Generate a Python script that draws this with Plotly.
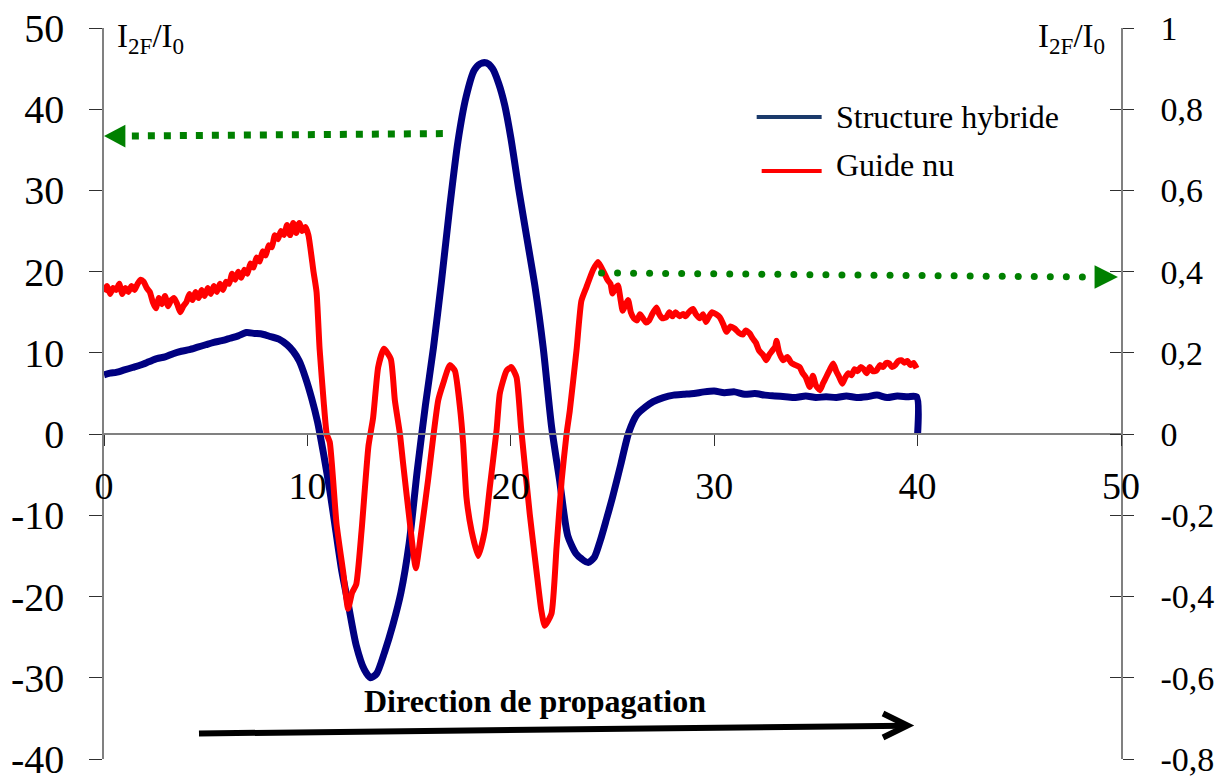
import numpy as np
import plotly.graph_objects as go

# ---- data -------------------------------------------------------------
# Structure hybride, left axis (I2F/I0)
hyb_x = [0, 0.3, 0.6, 1.0, 1.4, 1.8, 2.2, 2.6, 3.0, 3.4, 3.8, 4.2, 4.6, 5.0, 5.4,
         5.8, 6.2, 6.6, 7.0, 7.4, 7.8, 8.2, 8.6, 9.0, 9.3, 9.6, 9.9, 10.2, 10.5,
         10.8, 11.1, 11.4, 11.7, 12.0, 12.4, 12.8, 13.1, 13.4, 13.8, 14.2, 14.6,
         15.0, 15.4, 15.8, 16.2, 16.6, 17.0, 17.4, 17.8, 18.2, 18.5, 18.8, 19.1,
         19.4, 19.7, 20.0, 20.4, 20.8, 21.2, 21.6, 22.0, 22.4, 22.8, 23.2, 23.5,
         23.8, 24.1, 24.4, 24.7, 25.0, 25.4, 25.8, 26.2, 26.6, 27.0, 27.5, 28.0,
         28.5, 29.0, 29.5, 30.0, 30.5, 31.0, 31.5, 32.0, 32.5, 33.0, 33.5, 34.0,
         34.5, 35.0, 35.5, 36.0, 36.5, 37.0, 37.5, 38.0, 38.5, 39.0, 39.5, 39.95,
         40.0]
hyb_y = [7.3, 7.5, 7.6, 7.9, 8.2, 8.5, 8.9, 9.3, 9.5, 9.9, 10.2, 10.4, 10.7, 11.0,
         11.3, 11.5, 11.8, 12.1, 12.5, 12.4, 12.3, 12.0, 11.7, 11.0, 10.2, 9.0,
         7.0, 4.5, 1.5, -2.5, -6.9, -12.0, -17.0, -20.8, -26.0, -29.0, -30.0,
         -29.5, -26.8, -23.5, -19.5, -13.5, -4.5, 3.5, 10.7, 19.0, 28.0, 36.0,
         41.5, 44.8, 45.6, 45.7, 45.0, 43.2, 40.5, 36.5, 30.0, 24.0, 18.0, 10.5,
         1.0, -5.7, -12.5, -14.7, -15.4, -15.8, -15.2, -13.1, -10.5, -7.8, -3.8,
         0.2, 2.4, 3.3, 4.0, 4.5, 4.8, 4.9, 5.0, 5.2, 5.3, 5.1, 5.2, 4.9, 5.0,
         4.8, 4.7, 4.6, 4.5, 4.7, 4.5, 4.6, 4.5, 4.7, 4.5, 4.6, 4.8, 4.5, 4.7,
         4.6, 4.6, 0.0]

# Guide nu, right axis (I2F/I0)
nu_x = [0.0, 0.15, 0.3, 0.45, 0.6, 0.75, 0.9, 1.05, 1.2, 1.35, 1.5, 1.65, 1.8, 1.95,
        2.1, 2.25, 2.4, 2.55, 2.7, 2.85, 3.0, 3.15, 3.3, 3.45, 3.6, 3.75, 3.9,
        4.05, 4.2, 4.35, 4.5, 4.65, 4.8, 4.95, 5.1, 5.25, 5.4, 5.55, 5.7, 5.85,
        6.0, 6.15, 6.3, 6.45, 6.6, 6.75, 6.9, 7.05, 7.2, 7.35, 7.5, 7.65, 7.8,
        7.95, 8.1, 8.25, 8.4, 8.55, 8.7, 8.85, 9.0, 9.15, 9.3, 9.45, 9.6, 9.75,
        9.9, 10.05, 10.3, 10.45, 10.6, 10.8, 10.95, 11.1, 11.43, 11.76, 12.0,
        12.2, 12.4, 12.66, 13.0, 13.23, 13.48, 13.76, 14.1, 14.3, 14.55, 14.7,
        15.04, 15.33, 15.6, 15.94, 16.18, 16.43, 16.67, 17.0, 17.25, 17.5, 17.66,
        17.82, 18.07, 18.4, 18.72, 18.97, 19.3, 19.46, 19.79, 20.03, 20.28, 20.5,
        20.6, 20.93, 21.26, 21.5, 21.67, 22.0, 22.25, 22.5, 22.74, 22.9, 23.23,
        23.47, 23.72, 24.04, 24.29, 24.6, 24.75, 24.9, 25.0, 25.15, 25.27, 25.4,
        25.5, 25.65, 25.77, 25.9, 26.05, 26.2, 26.35, 26.5, 26.65, 26.8, 26.95,
        27.16, 27.3, 27.45, 27.65, 27.8, 27.95, 28.1, 28.3, 28.47, 28.6, 28.75,
        28.96, 29.1, 29.3, 29.45, 29.6, 29.75, 29.9, 30.1, 30.27, 30.45, 30.6,
        30.8, 31.0, 31.2, 31.4, 31.55, 31.74, 31.9, 32.05, 32.2, 32.4, 32.56,
        32.7, 32.85, 33.0, 33.06, 33.2, 33.4, 33.6, 33.8, 34.0, 34.2, 34.35, 34.5,
        34.7, 34.85, 35.0, 35.2, 35.35, 35.5, 35.7, 35.85, 36.0, 36.15, 36.3,
        36.45, 36.6, 36.75, 36.9, 37.05, 37.2, 37.35, 37.5, 37.65, 37.8, 37.97,
        38.15, 38.3, 38.45, 38.6, 38.75, 38.9, 39.05, 39.2, 39.35, 39.5, 39.65,
        39.8, 39.95]
nu_y = [0.35, 0.365, 0.345, 0.36, 0.355, 0.37, 0.345, 0.36, 0.35, 0.365, 0.355,
        0.37, 0.38, 0.375, 0.36, 0.35, 0.325, 0.31, 0.335, 0.32, 0.34, 0.315,
        0.33, 0.335, 0.32, 0.30, 0.315, 0.325, 0.345, 0.33, 0.35, 0.335, 0.355,
        0.34, 0.36, 0.345, 0.365, 0.35, 0.37, 0.355, 0.375, 0.37, 0.395, 0.38,
        0.40, 0.385, 0.405, 0.395, 0.42, 0.41, 0.435, 0.425, 0.45, 0.44, 0.465,
        0.46, 0.49, 0.48, 0.50, 0.49, 0.515, 0.49, 0.52, 0.495, 0.52, 0.50, 0.51,
        0.49, 0.40, 0.35, 0.21, 0.08, 0.0, -0.02, -0.22, -0.34, -0.43, -0.39,
        -0.37, -0.24, -0.03, 0.04, 0.165, 0.21, 0.185, 0.083, 0.0, -0.07, -0.22,
        -0.33, -0.24, -0.11, -0.01, 0.083, 0.124, 0.17, 0.156, 0.066, -0.024,
        -0.156, -0.238, -0.30, -0.238, -0.13, 0.009, 0.10, 0.156, 0.165, 0.14,
        0.018, -0.032, -0.196, -0.336, -0.434, -0.472, -0.442, -0.278, -0.114,
        0.0, 0.058, 0.206, 0.328, 0.362, 0.404, 0.424, 0.396, 0.38, 0.37, 0.346,
        0.36, 0.366, 0.33, 0.304, 0.32, 0.33, 0.30, 0.285, 0.28, 0.295, 0.285,
        0.275, 0.28, 0.295, 0.312, 0.295, 0.285, 0.288, 0.30, 0.29, 0.30, 0.29,
        0.296, 0.29, 0.30, 0.308, 0.295, 0.285, 0.295, 0.276, 0.29, 0.30, 0.295,
        0.288, 0.27, 0.252, 0.265, 0.26, 0.25, 0.245, 0.255, 0.248, 0.235, 0.225,
        0.206, 0.195, 0.182, 0.195, 0.205, 0.215, 0.23, 0.20, 0.182, 0.19, 0.175,
        0.17, 0.165, 0.15, 0.14, 0.116, 0.144, 0.12, 0.108, 0.125, 0.14, 0.16,
        0.174, 0.155, 0.14, 0.124, 0.14, 0.15, 0.145, 0.16, 0.155, 0.165, 0.16,
        0.15, 0.165, 0.155, 0.156, 0.17, 0.165, 0.175, 0.174, 0.165, 0.17, 0.18,
        0.182, 0.176, 0.18, 0.17, 0.175, 0.162]

# axis ticks
x_ticks = [0, 10, 20, 30, 40, 50]
left_ticks = [-40, -30, -20, -10, 0, 10, 20, 30, 40, 50]
left_labels = ["-40", "-30", "-20", "-10", "0", "10", "20", "30", "40", "50"]
right_ticks = [-0.8, -0.6, -0.4, -0.2, 0, 0.2, 0.4, 0.6, 0.8, 1]
right_labels = ["-0,8", "-0,6", "-0,4", "-0,2", "0", "0,2", "0,4", "0,6", "0,8", "1"]

# guide arrows: left (hybrid scale) and right (bare guide scale)
left_arrow_start = (16.66, 37.0)
left_arrow_end = (1.05, 36.7)
left_arrow_tip = 0.0
right_arrow_start = (24.46, 0.397)
right_arrow_end = (48.1, 0.387)
right_arrow_tip = 49.85

SERIF = "Liberation Serif, Times New Roman, serif"
GREEN = "#008000"

# plot-area geometry in pixels, used for paper-positioned decorations
PL, PR, PT, PB = 104, 1121.5, 28, 758.7
def px(xp):
    return (xp - PL) / (PR - PL)
def py(yp):
    return (PB - yp) / (PB - PT)

fig = go.Figure()

fig.add_trace(go.Scatter(x=hyb_x, y=hyb_y, mode="lines", yaxis="y",
                         line=dict(color="#000080", width=7, shape="spline",
                                   smoothing=0.7),
                         showlegend=False))
fig.add_trace(go.Scatter(x=nu_x, y=nu_y, mode="lines", yaxis="y2",
                         line=dict(color="#FF0000", width=6, shape="spline",
                                   smoothing=0.5),
                         showlegend=False))

# left arrow: square dots
fig.add_trace(go.Scatter(x=[left_arrow_start[0], left_arrow_end[0]],
                         y=[left_arrow_start[1], left_arrow_end[1]],
                         mode="lines", yaxis="y",
                         line=dict(color=GREEN, width=7, dash="7px,9px"),
                         showlegend=False, hoverinfo="skip"))
fig.add_trace(go.Scatter(x=[left_arrow_tip, left_arrow_end[0], left_arrow_end[0], left_arrow_tip],
                         y=[left_arrow_end[1], left_arrow_end[1] + 1.4,
                            left_arrow_end[1] - 1.4, left_arrow_end[1]],
                         mode="lines", fill="toself", fillcolor=GREEN, yaxis="y",
                         line=dict(color=GREEN, width=0), showlegend=False,
                         hoverinfo="skip"))

# right arrow: round dots
n_dots = 31
fig.add_trace(go.Scatter(x=np.linspace(right_arrow_start[0], right_arrow_end[0], n_dots),
                         y=np.linspace(right_arrow_start[1], right_arrow_end[1], n_dots),
                         mode="markers", yaxis="y2",
                         marker=dict(color=GREEN, size=7, line=dict(width=0)),
                         showlegend=False, hoverinfo="skip"))
fig.add_trace(go.Scatter(x=[right_arrow_tip, right_arrow_end[0] + 0.6,
                            right_arrow_end[0] + 0.6, right_arrow_tip],
                         y=[right_arrow_end[1], right_arrow_end[1] + 0.029,
                            right_arrow_end[1] - 0.029, right_arrow_end[1]],
                         mode="lines", fill="toself", fillcolor=GREEN, yaxis="y2",
                         line=dict(color=GREEN, width=0), showlegend=False,
                         hoverinfo="skip"))

# helper trace for the inner ticks of the right axis
fig.add_trace(go.Scatter(x=[None], y=[None], yaxis="y3", showlegend=False))

# propagation arrow (black, open head)
fig.add_shape(type="line", xref="x", yref="y", x0=4.67, y0=-36.86, x1=39.4, y1=-35.9,
              line=dict(color="black", width=6))
fig.add_shape(type="path", xref="x", yref="y",
              path="M 38.3,-34.4 L 39.5,-35.87 L 38.3,-37.35",
              line=dict(color="black", width=6))

# legend
fig.add_shape(type="line", xref="paper", yref="paper",
              x0=px(757), x1=px(822), y0=py(117), y1=py(117),
              line=dict(color="#1B3A6B", width=4))
fig.add_shape(type="line", xref="paper", yref="paper",
              x0=px(762), x1=px(822), y0=py(171), y1=py(171),
              line=dict(color="#FF0000", width=4))

annotations = [
    dict(text="Structure hybride", x=px(834), y=py(117),
         xanchor="left", yanchor="middle", font=dict(size=32)),
    dict(text="Guide nu", x=px(834), y=py(165),
         xanchor="left", yanchor="middle", font=dict(size=32)),
    dict(text="I<sub>2F</sub>/I<sub>0</sub>", x=px(115), y=py(38),
         xanchor="left", yanchor="middle", font=dict(size=33)),
    dict(text="I<sub>2F</sub>/I<sub>0</sub>", x=px(1107), y=py(38),
         xanchor="right", yanchor="middle", font=dict(size=33)),
    dict(text="<b>Direction de propagation</b>", x=px(535), y=py(701),
         xanchor="center", yanchor="middle", font=dict(size=32)),
]
for a in annotations:
    a.update(xref="paper", yref="paper", showarrow=False)
    a["font"].update(family=SERIF, color="black")

fig.update_layout(
    width=1221, height=778,
    margin=dict(l=PL, r=1221 - PR, t=PT, b=778 - PB, autoexpand=False),
    paper_bgcolor="white", plot_bgcolor="white",
    font=dict(family=SERIF, color="black"),
    annotations=annotations,
    xaxis=dict(range=[0, 50], tickvals=x_ticks, ticktext=[str(v) for v in x_ticks],
               anchor="free", position=40 / 90, showline=True, linecolor="#808080",
               linewidth=1.5, ticks="outside", ticklen=11, tickcolor="#303030",
               tickwidth=1.2, showgrid=False, zeroline=False, automargin=False,
               ticklabeloverflow="allow",
               tickfont=dict(size=38, family=SERIF), ticklabelstandoff=8),
    yaxis=dict(range=[-40, 50], tickvals=left_ticks, ticktext=left_labels,
               showline=True, linecolor="#808080", linewidth=1.5, ticks="outside",
               ticklen=13, tickcolor="#303030", tickwidth=1.2, showgrid=False,
               zeroline=False, automargin=False, ticklabeloverflow="allow",
               tickfont=dict(size=40, family=SERIF), ticklabelstandoff=17),
    yaxis2=dict(range=[-0.8, 1], tickvals=right_ticks, ticktext=right_labels,
                overlaying="y", side="right", showline=True, linecolor="#808080",
                linewidth=1.5, ticks="outside", ticklen=11, tickcolor="#303030",
                tickwidth=1.2, showgrid=False, zeroline=False, automargin=False,
                ticklabeloverflow="allow",
                tickfont=dict(size=34, family=SERIF), ticklabelstandoff=20),
    yaxis3=dict(range=[-0.8, 1], tickvals=right_ticks, overlaying="y", side="right",
                showline=False, ticks="inside", ticklen=11, tickcolor="#303030",
                tickwidth=1.2, showgrid=False, zeroline=False, showticklabels=False,
                automargin=False),
    showlegend=False,
)

fig.write_html("out.html")
